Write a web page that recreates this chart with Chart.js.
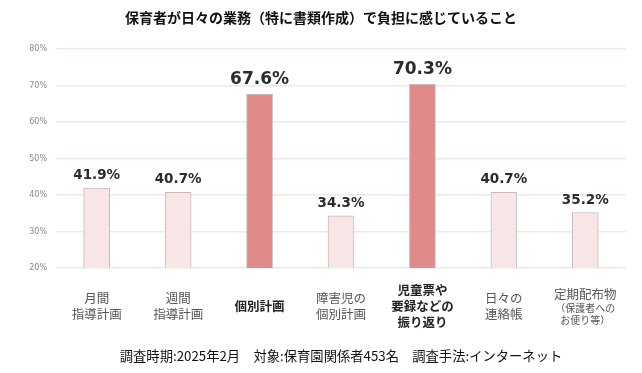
<!DOCTYPE html>
<html lang="ja">
<head>
<meta charset="utf-8">
<script src="https://cdn.jsdelivr.net/npm/chart.js@4"></script>
<style>
  html, body { margin: 0; padding: 0; background: #fff; }
  #wrap { width: 642px; height: 373px; }
</style>
</head>
<body>
<div id="wrap"><canvas id="chart" width="642" height="373"></canvas></div>
<script>
/* ── Data ───────────────────────────────────────────────────────────────── */
const TITLE  = '保育者が日々の業務（特に書類作成）で負担に感じていること';
const FOOTER = '調査時期:2025年2月　対象:保育園関係者453名　調査手法:インターネット';

const CATEGORIES = [
  ['月間', '指導計画'],
  ['週間', '指導計画'],
  ['個別計画'],
  ['障害児の', '個別計画'],
  ['児童票や', '要録などの', '振り返り'],
  ['日々の', '連絡帳'],
  ['定期配布物', '（保護者への', 'お便り等）']
];
const VALUES = [41.9, 40.7, 67.6, 34.3, 70.3, 40.7, 35.2];
const Y_TICKS = [20, 30, 40, 50, 60, 70, 80];
const HIGHLIGHT = [2, 4];

/* ── Styles ─────────────────────────────────────────────────────────────── */
const JP = '"Noto Sans CJK JP", "Noto Sans", sans-serif';
const LIGHT = '#f8e6e6';
const DARK  = '#e08a8a';

/* ── Overlay plugin: title, value labels, category labels, footer ───────── */
const overlay = {
  id: 'overlay',
  afterDraw(chart) {
    const { ctx, scales: { x, y } } = chart;
    ctx.save();

    // title
    ctx.fillStyle = '#111';
    ctx.font = `bold 14px ${JP}`;
    ctx.textAlign = 'center';
    ctx.textBaseline = 'middle';
    ctx.fillText(TITLE, 321, 18);

    // value labels
    ctx.fillStyle = '#2b2b2b';
    ctx.textBaseline = 'alphabetic';
    VALUES.forEach((v, i) => {
      const hi = HIGHLIGHT.includes(i);
      ctx.font = `bold ${hi ? 17 : 13.5}px "DejaVu Sans", sans-serif`;
      ctx.fillText(v.toFixed(1) + '%', x.getPixelForValue(i), y.getPixelForValue(v) - (hi ? 10 : 9));
    });

    // category labels
    CATEGORIES.forEach((lines, i) => {
      const cx = x.getPixelForValue(i);
      const bold = HIGHLIGHT.includes(i);
      const small = lines.map(l => /^（|）$/.test(l));
      const heights = small.map(s => s ? 12 : 16);
      const total = heights.reduce((a, b) => a + b, 0);
      let yy = 306 - total / 2;
      lines.forEach((line, j) => {
        ctx.font = `${bold ? 'bold ' : ''}${small[j] ? 10 : 12.5}px ${JP}`;
        ctx.fillStyle = bold ? '#222' : '#555';
        ctx.textBaseline = 'middle';
        ctx.fillText(line, cx, yy + heights[j] / 2);
        yy += heights[j];
      });
    });

    // footer
    ctx.font = `13.3px ${JP}`;
    ctx.fillStyle = '#111';
    ctx.textBaseline = 'middle';
    ctx.fillText(FOOTER, 341, 356);

    ctx.restore();
  }
};

/* ── Chart ──────────────────────────────────────────────────────────────── */
const ctx = document.getElementById('chart').getContext('2d');
new Chart(ctx, {
  type: 'bar',
  data: {
    labels: CATEGORIES.map(l => l.join('')),
    datasets: [{
      data: VALUES,
      backgroundColor: VALUES.map((_, i) => HIGHLIGHT.includes(i) ? DARK : LIGHT),
      borderColor: '#c4bcbc',
      borderWidth: 1,
      borderSkipped: 'bottom',
      barThickness: 26
    }]
  },
  options: {
    responsive: false,
    animation: false,
    layout: { padding: { top: 49, right: 16, bottom: 105, left: 0 } },
    plugins: {
      legend: { display: false },
      tooltip: { enabled: false }
    },
    scales: {
      x: {
        grid: { display: false },
        border: { display: false },
        ticks: { display: false },
        afterFit: scale => { scale.height = 0; }
      },
      y: {
        min: 20,
        max: 80,
        afterBuildTicks: scale => { scale.ticks = Y_TICKS.map(v => ({ value: v })); },
        afterFit: scale => { scale.width = 56; },
        grid: { color: '#f0e8e6', lineWidth: 1.5, drawTicks: false },
        border: { display: false },
        ticks: {
          padding: 9,
          color: '#888',
          font: { family: '"DejaVu Sans", sans-serif', size: 8 },
          callback: v => v + '%'
        }
      }
    }
  },
  plugins: [overlay]
});
</script>
</body>
</html>
